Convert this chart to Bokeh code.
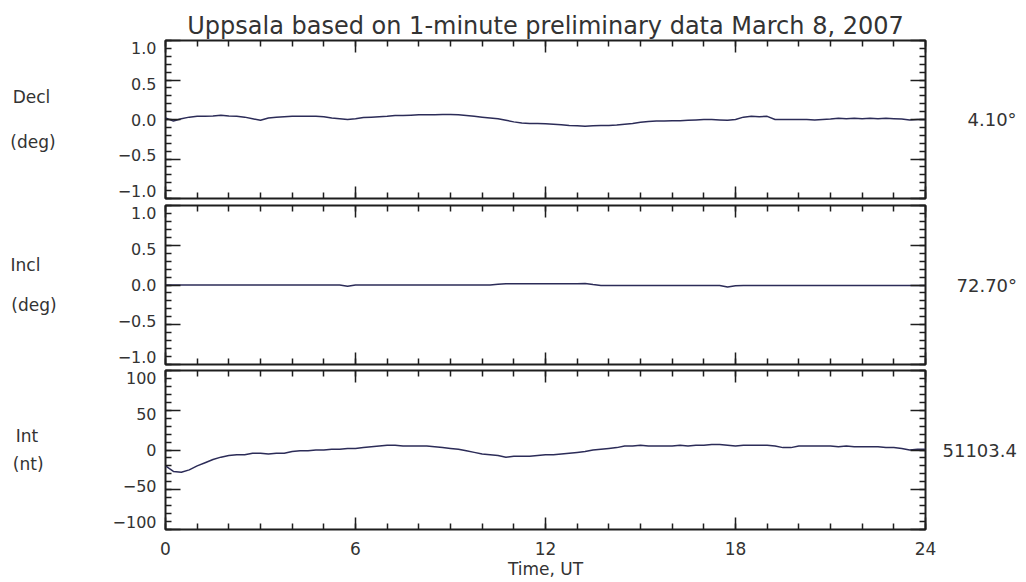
from bokeh.plotting import figure
from bokeh.layouts import column
from bokeh.models import (Range1d, LinearAxis, SingleIntervalTicker, ColumnDataSource,
                          BasicTickFormatter, CustomJSTickFormatter, CustomLabelingPolicy)
from bokeh.embed import file_html
from bokeh.resources import INLINE

# ---------------- data ----------------
hours = [i * 0.25 for i in range(97)]

decl = [0.02, -0.02, 0.01, 0.03, 0.04, 0.04, 0.045, 0.055, 0.045, 0.04, 0.03, 0.01,
        -0.01, 0.02, 0.03, 0.035, 0.04, 0.04, 0.04, 0.04, 0.035, 0.02, 0.01, 0.0,
        0.01, 0.025, 0.03, 0.035, 0.04, 0.05, 0.05, 0.055, 0.06, 0.06, 0.06, 0.062,
        0.063, 0.06, 0.05, 0.04, 0.03, 0.02, 0.01, -0.01, -0.03, -0.045, -0.05, -0.05,
        -0.055, -0.06, -0.065, -0.075, -0.08, -0.085, -0.08, -0.075, -0.075, -0.07, -0.06, -0.05,
        -0.035, -0.025, -0.02, -0.02, -0.015, -0.015, -0.01, -0.005, 0.0, 0.0, -0.005, -0.01,
        0.0, 0.03, 0.04, 0.035, 0.04, 0.0, 0.0, 0.0, 0.0, 0.0, -0.005, 0.0,
        0.005, 0.015, 0.01, 0.015, 0.01, 0.015, 0.01, 0.015, 0.01, 0.005, -0.005, 0.0, 0.0]

incl = [0.0] * 12 + \
       [0.0] * 11 + [-0.015] + \
       [0.0] * 12 + \
       [0.0, 0.0, 0.0, 0.0, 0.0, 0.0, 0.01, 0.015, 0.015, 0.015, 0.015, 0.015] + \
       [0.015, 0.015, 0.015, 0.015, 0.015, 0.02, 0.005, -0.005, -0.005, -0.005, -0.005, -0.005] + \
       [-0.005] * 11 + [-0.025] + \
       [-0.01] + [-0.005] * 11 + \
       [-0.005] * 13

intensity = [-20, -27, -28, -25, -20, -16, -12, -9, -7, -6, -6, -4,
             -4, -5, -4, -4, -2, -1, -1, 0, 0, 1, 1, 2,
             2, 3, 4, 5, 6, 6, 5, 5, 5, 5, 4, 3,
             2, 1, -1, -3, -5, -6, -7, -9, -8, -8, -8, -7,
             -6, -6, -5, -4, -3, -2, 0, 1, 2, 3, 5, 5,
             6, 5, 5, 5, 5, 6, 5, 6, 6, 7, 7, 6,
             5, 6, 6, 6, 6, 5, 3, 3, 5, 5, 5, 5,
             5, 4, 5, 4, 4, 4, 4, 3, 3, 2, 0, 1, 1]

title_text = "Uppsala based on 1-minute preliminary data March 8, 2007"
NB = "\u00a0"
panel_labels = ["Decl" + NB + "\n(deg)", "Incl" + NB * 3 + "\n(deg)", "Int" + NB + "\n(nt)"]
baselines = ["4.10°", "72.70°", "51103.4"]
x_title = "Time, UT"

FONT = "DejaVu Sans"
INK = "#1e1e1e"
TXT = "#333333"
LINE = "#2c2c58"

HIDE = "for (const i of Array.from(indices)) { indices.unset(i) }\nreturn indices"
ONE_DEC = "return tick.toFixed(1).replace('-', '\u2212')"


def ticks_only(ax, tick_in, minor_in):
    ax.axis_line_color = None
    ax.major_tick_in = tick_in
    ax.major_tick_out = 0
    ax.minor_tick_in = minor_in
    ax.minor_tick_out = 0
    ax.major_tick_line_color = INK
    ax.minor_tick_line_color = INK
    ax.major_tick_line_width = 1.5
    ax.minor_tick_line_width = 1.5
    ax.major_label_text_font_size = "0px"
    ax.major_label_standoff = 0
    ax.major_label_policy = CustomLabelingPolicy(code=HIDE)
    ax.axis_label_text_font = FONT
    ax.axis_label_text_font_style = "normal"
    ax.axis_label_text_color = TXT


def make_panel(height, top, bottom, yr, lab_r, y_int, yvals, formatter,
               name, name_standoff, name_lh, base, base_standoff):
    p = figure(width=1026, height=height, output_backend="svg", toolbar_location=None,
               tools="", x_range=Range1d(0, 24), y_range=Range1d(*yr),
               x_axis_location=None, y_axis_location=None)
    p.extra_y_ranges = {"lab": Range1d(*lab_r)}
    p.min_border_left = 165
    p.min_border_right = 101
    p.min_border_top = top
    p.min_border_bottom = bottom
    p.grid.visible = False
    p.outline_line_color = INK
    p.outline_line_width = 2
    p.background_fill_color = "white"
    p.border_fill_color = "white"

    # x ticks, bottom and top (inside)
    xb = LinearAxis(ticker=SingleIntervalTicker(interval=6, num_minor_ticks=6))
    ticks_only(xb, 12, 6)
    p.add_layout(xb, "below")
    xa = LinearAxis(ticker=SingleIntervalTicker(interval=6, num_minor_ticks=6))
    ticks_only(xa, 12, 6)
    p.add_layout(xa, "above")

    # y ticks, left and right (inside)
    yl = LinearAxis(ticker=SingleIntervalTicker(interval=y_int, num_minor_ticks=5))
    ticks_only(yl, 15, 6)
    p.add_layout(yl, "left")
    yrt = LinearAxis(ticker=SingleIntervalTicker(interval=y_int, num_minor_ticks=5))
    ticks_only(yrt, 15, 6)
    yrt.axis_label = base
    yrt.axis_label_orientation = "horizontal"
    yrt.axis_label_text_font_size = "18px"
    yrt.axis_label_standoff = base_standoff
    p.add_layout(yrt, "right")

    # y tick labels (kept inside the panel like the original) + panel name
    ylab = LinearAxis(y_range_name="lab",
                      ticker=SingleIntervalTicker(interval=y_int, num_minor_ticks=0),
                      formatter=formatter)
    ylab.axis_line_color = None
    ylab.major_tick_in = 0
    ylab.major_tick_out = 0
    ylab.minor_tick_in = 0
    ylab.minor_tick_out = 0
    ylab.major_label_text_font = FONT
    ylab.major_label_text_font_size = "16px"
    ylab.major_label_text_color = TXT
    ylab.major_label_standoff = 9
    ylab.axis_label = name
    ylab.axis_label_orientation = "horizontal"
    ylab.axis_label_text_font = FONT
    ylab.axis_label_text_font_style = "normal"
    ylab.axis_label_text_font_size = "17px"
    ylab.axis_label_text_color = TXT
    ylab.axis_label_text_line_height = name_lh
    ylab.axis_label_standoff = name_standoff
    p.add_layout(ylab, "left")

    src = ColumnDataSource(dict(x=hours, y=yvals))
    p.line("x", "y", source=src, line_color=LINE, line_width=1.5)
    return p


p1 = make_panel(201, 40, 3, (-1, 1), (-1.1, 1.1), 0.5, decl,
                CustomJSTickFormatter(code=ONE_DEC),
                panel_labels[0], 59, 2.25, baselines[0], 42)
p2 = make_panel(166, 4, 3, (-1, 1), (-1.1, 1.1), 0.5, incl,
                CustomJSTickFormatter(code=ONE_DEC),
                panel_labels[1], 58, 2.0, baselines[1], 31)
p3 = make_panel(215, 3, 53, (-100, 100), (-110, 110), 50, intensity,
                BasicTickFormatter(),
                panel_labels[2], 66, 1.4, baselines[2], 17)

# title
p1.title.text = title_text
p1.title.align = "center"
p1.title.text_font = FONT
p1.title.text_font_size = "24px"
p1.title.text_font_style = "normal"
p1.title.text_color = TXT
p1.title.standoff = 2

# x tick labels and x title on the bottom panel
xb3 = p3.below[0]
xb3.major_label_policy = CustomLabelingPolicy(code="return indices")
xb3.major_label_text_font = FONT
xb3.major_label_text_font_size = "17px"
xb3.major_label_text_color = TXT
xb3.major_label_standoff = 12
xb3.axis_label = x_title
xb3.axis_label_text_font_size = "17px"
xb3.axis_label_standoff = 1

layout = column(p1, p2, p3, spacing=0)
open("out.html", "w").write(file_html(layout, INLINE))
